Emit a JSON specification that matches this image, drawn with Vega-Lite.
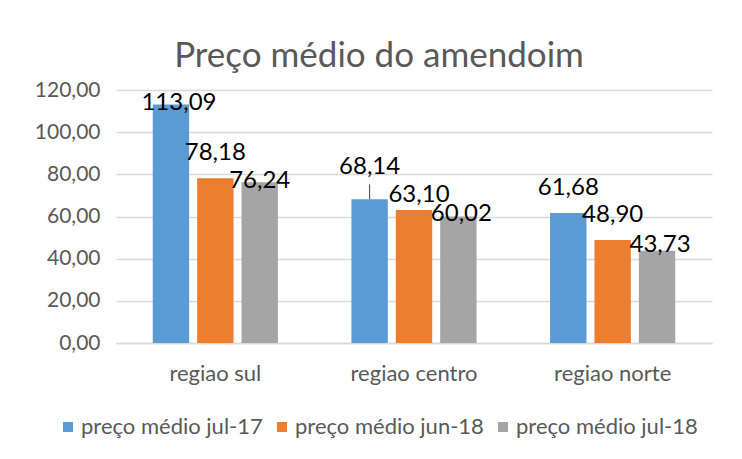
{
  "$schema": "https://vega.github.io/schema/vega-lite/v6.json",
  "width": 596,
  "height": 253,
  "autosize": {"type": "none"},
  "padding": {"left": 116, "top": 90, "right": 30, "bottom": 116},
  "background": "white",
  "title": {
    "text": "Preço médio do amendoim",
    "fontSize": 35,
    "font": "Lato",
    "fontWeight": "normal",
    "color": "#595959",
    "anchor": "middle",
    "dx": -35,
    "offset": 5
  },
  "config": {
    "locale": {"number": {"decimal": ",", "thousands": ".", "grouping": [3], "currency": ["R$", ""]}},
    "font": "Lato",
    "view": {"stroke": null}
  },
  "data": {
    "values": [
      {"regiao": "regiao sul", "serie": "preço médio jul-17", "preco": 113.09},
      {"regiao": "regiao sul", "serie": "preço médio jun-18", "preco": 78.18},
      {"regiao": "regiao sul", "serie": "preço médio jul-18", "preco": 76.24},
      {"regiao": "regiao centro", "serie": "preço médio jul-17", "preco": 68.14},
      {"regiao": "regiao centro", "serie": "preço médio jun-18", "preco": 63.10},
      {"regiao": "regiao centro", "serie": "preço médio jul-18", "preco": 60.02},
      {"regiao": "regiao norte", "serie": "preço médio jul-17", "preco": 61.68},
      {"regiao": "regiao norte", "serie": "preço médio jun-18", "preco": 48.90},
      {"regiao": "regiao norte", "serie": "preço médio jul-18", "preco": 43.73}
    ]
  },
  "encoding": {
    "x": {
      "field": "regiao",
      "type": "nominal",
      "sort": ["regiao sul", "regiao centro", "regiao norte"],
      "scale": {"paddingInner": 0.37, "paddingOuter": 0.185},
      "axis": {
        "title": null,
        "labelAngle": 0,
        "labelFontSize": 22,
        "labelColor": "#595959",
        "labelPadding": 20,
        "ticks": false,
        "domainColor": "#d9d9d9",
        "domainWidth": 1.5
      }
    },
    "xOffset": {
      "field": "serie",
      "type": "nominal",
      "sort": ["preço médio jul-17", "preço médio jun-18", "preço médio jul-18"],
      "scale": {"paddingInner": 0.18, "paddingOuter": 0}
    },
    "y": {
      "field": "preco",
      "type": "quantitative",
      "scale": {"domain": [0, 120]},
      "axis": {
        "title": null,
        "values": [0, 20, 40, 60, 80, 100, 120],
        "format": ".2f",
        "labelFontSize": 21,
        "labelColor": "#595959",
        "labelPadding": 16,
        "ticks": false,
        "domain": false,
        "gridColor": "#d9d9d9",
        "gridWidth": 1.5
      }
    }
  },
  "layer": [
    {
      "mark": {"type": "bar"},
      "encoding": {
        "color": {
          "field": "serie",
          "type": "nominal",
          "sort": ["preço médio jul-17", "preço médio jun-18", "preço médio jul-18"],
          "scale": {"range": ["#5B9BD5", "#ED7D31", "#A5A5A5"]},
          "legend": {
            "title": null,
            "orient": "none",
            "direction": "horizontal",
            "legendX": -59,
            "legendY": 326,
            "symbolType": "square",
            "symbolSize": 100,
            "symbolStrokeWidth": 0,
            "labelFontSize": 22,
            "labelColor": "#595959",
            "labelOffset": 2,
            "columnPadding": 8,
            "labelLimit": 300
          }
        }
      }
    },
    {
      "transform": [{"filter": "datum.preco == 68.14"}],
      "mark": {"type": "rule", "color": "#404040", "strokeWidth": 1, "y2Offset": -15},
      "encoding": {"y2": {"field": "preco"}}
    },
    {
      "transform": [{"filter": "datum.preco == 76.24"}],
      "mark": {"type": "text", "fontSize": 24, "color": "#000000", "baseline": "alphabetic", "dy": 6, "dx": 0},
      "encoding": {"text": {"field": "preco", "type": "quantitative", "format": ".2f"}}
    },
    {
      "transform": [{"filter": "datum.preco == 113.09"}],
      "mark": {"type": "text", "fontSize": 24, "color": "#000000", "baseline": "alphabetic", "dy": 5, "dx": 8},
      "encoding": {"text": {"field": "preco", "type": "quantitative", "format": ".2f"}}
    },
    {
      "transform": [{"filter": "datum.preco == 60.02"}],
      "mark": {"type": "text", "fontSize": 24, "color": "#000000", "baseline": "alphabetic", "dy": 5, "dx": 3},
      "encoding": {"text": {"field": "preco", "type": "quantitative", "format": ".2f"}}
    },
    {
      "transform": [{"filter": "datum.preco == 43.73"}],
      "mark": {"type": "text", "fontSize": 24, "color": "#000000", "baseline": "alphabetic", "dy": 1, "dx": 3},
      "encoding": {"text": {"field": "preco", "type": "quantitative", "format": ".2f"}}
    },
    {
      "transform": [{"filter": "datum.preco == 78.18 || datum.preco == 61.68 || datum.preco == 48.90"}],
      "mark": {"type": "text", "fontSize": 24, "color": "#000000", "baseline": "alphabetic", "dy": -18, "dx": 0},
      "encoding": {"text": {"field": "preco", "type": "quantitative", "format": ".2f"}}
    },
    {
      "transform": [{"filter": "datum.preco == 63.10"}],
      "mark": {"type": "text", "fontSize": 24, "color": "#000000", "baseline": "alphabetic", "dy": -8, "dx": 5},
      "encoding": {"text": {"field": "preco", "type": "quantitative", "format": ".2f"}}
    },
    {
      "transform": [{"filter": "datum.preco == 68.14"}],
      "mark": {"type": "text", "fontSize": 24, "color": "#000000", "baseline": "alphabetic", "dy": -25, "dx": 0},
      "encoding": {"text": {"field": "preco", "type": "quantitative", "format": ".2f"}}
    }
  ]
}
